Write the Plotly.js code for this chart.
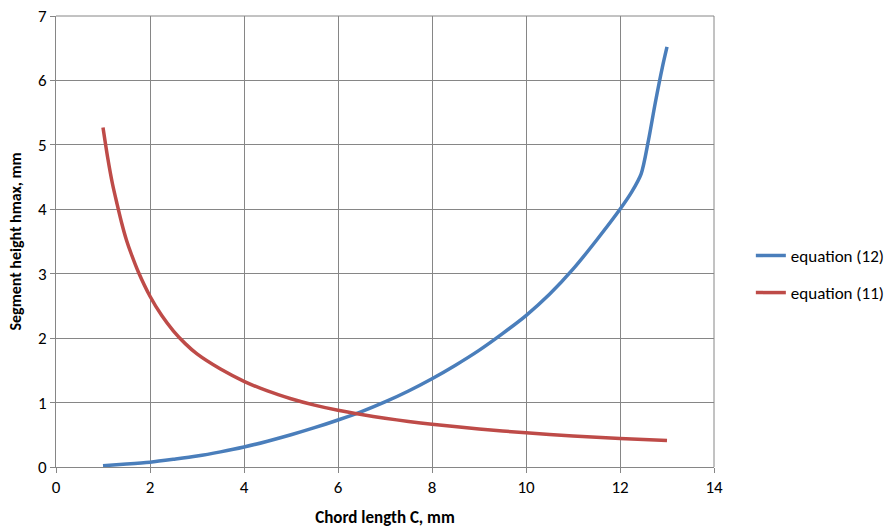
<!DOCTYPE html>
<html>
<head>
<meta charset="utf-8">
<script src="https://cdn.plot.ly/plotly-3.0.1.min.js"></script>
<style>html,body{margin:0;padding:0;background:#fff}#chart{width:888px;height:528px}</style>
</head>
<body>
<div id="chart"></div>
<script>
// equation (12) — blue
const eq12_x = [1, 1.5, 2, 2.5, 3, 3.5, 4, 4.5, 5, 5.5, 6, 6.5, 7, 7.5, 8, 8.5, 9, 9.5, 10, 10.5, 11, 11.5, 12, 12.25, 12.45, 12.6, 12.75, 12.9, 13];
const eq12_y = [0.02, 0.045, 0.075, 0.12, 0.17, 0.235, 0.31, 0.40, 0.50, 0.61, 0.73, 0.86, 1.01, 1.18, 1.37, 1.58, 1.81, 2.07, 2.35, 2.68, 3.07, 3.52, 4.0, 4.27, 4.55, 5.05, 5.65, 6.2, 6.52];
// equation (11) — red
const eq11_x = [1, 1.1, 1.2, 1.3, 1.4, 1.5, 1.6, 1.75, 2, 2.25, 2.5, 2.75, 3, 3.5, 4, 4.5, 5, 5.5, 6, 6.5, 7, 7.5, 8, 9, 10, 11, 12, 13];
const eq11_y = [5.27, 4.8, 4.4, 4.08, 3.78, 3.52, 3.31, 3.03, 2.65, 2.35, 2.11, 1.915, 1.755, 1.52, 1.33, 1.18, 1.06, 0.96, 0.88, 0.815, 0.757, 0.707, 0.663, 0.59, 0.53, 0.482, 0.442, 0.41];

const xTicks = [0, 2, 4, 6, 8, 10, 12, 14];
const yTicks = [0, 1, 2, 3, 4, 5, 6, 7];
const names = ['equation (12)', 'equation (11)'];

const gridColor = '#868686';
const font = 'Carlito, Calibri, "Open Sans", "Liberation Sans", sans-serif';

const traces = [
  {x: eq12_x, y: eq12_y, name: names[0], mode: 'lines', line: {color: '#4a7ebb', width: 3.5, shape: 'spline', smoothing: 0.8}, legendgroup: 'a'},
  {x: eq11_x, y: eq11_y, name: names[1], mode: 'lines', line: {color: '#be4b48', width: 3.5, shape: 'spline', smoothing: 0.8}, legendgroup: 'b'}
];

const layout = {
  width: 888, height: 528,
  margin: {l: 56, r: 174, t: 16, b: 61, autoexpand: false},
  paper_bgcolor: '#fff', plot_bgcolor: '#fff',
  font: {family: font, size: 17, color: '#000'},
  showlegend: true,
  legend: {x: 1.056, xanchor: 'left', y: 0.427, yanchor: 'middle', font: {size: 17, family: font}, tracegroupgap: 12, traceorder: 'grouped', bgcolor: 'rgba(0,0,0,0)'},
  xaxis: {
    range: [0, 14], tickvals: xTicks, ticktext: xTicks.map(String),
    showgrid: true, gridcolor: gridColor, gridwidth: 1,
    showline: true, linecolor: gridColor, linewidth: 1, mirror: false,
    ticks: 'outside', ticklen: 5, tickcolor: gridColor,
    zeroline: false, tickfont: {size: 17, family: font},
    title: {text: '<b>Chord length C, mm</b>', font: {size: 17, family: font}, standoff: 15}
  },
  yaxis: {
    range: [0, 7], tickvals: yTicks, ticktext: yTicks.map(String),
    showgrid: true, gridcolor: gridColor, gridwidth: 1,
    showline: true, linecolor: gridColor, linewidth: 1,
    ticks: 'outside', ticklen: 5, tickcolor: gridColor,
    zeroline: false, tickfont: {size: 17, family: font},
    title: {text: '<b>Segment height hmax, mm</b>', font: {size: 16, family: font}, standoff: 12}
  },
  shapes: [
    {type: 'line', xref: 'paper', yref: 'paper', x0: 1, x1: 1, y0: 0, y1: 1, line: {color: gridColor, width: 1}},
    {type: 'line', xref: 'paper', yref: 'paper', x0: 0, x1: 1, y0: 1, y1: 1, line: {color: gridColor, width: 1}}
  ]
};

Plotly.newPlot('chart', traces, layout, {displayModeBar: false, staticPlot: true});
</script>
</body>
</html>
